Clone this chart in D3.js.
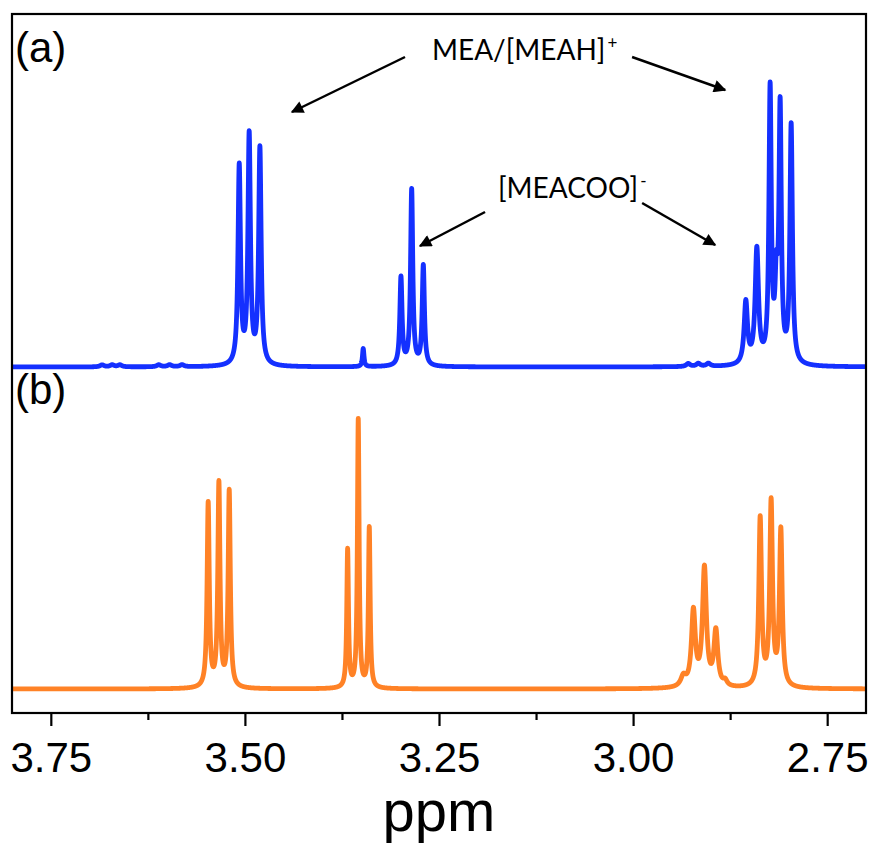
<!DOCTYPE html>
<html>
<head>
<meta charset="utf-8">
<script src="https://cdn.jsdelivr.net/npm/d3@7"></script>
<style>
  body { margin: 0; background: #fff; }
  svg { display: block; }
</style>
</head>
<body>
<div class="nmr-chart"></div>
<script>
'use strict'

// Peak lists (ppm, intensity a.u., half width ppm).
// (a) upper spectrum
const ppmA = [3.684, 3.671, 3.661, 3.611, 3.597, 3.581,
              3.5073, 3.4945, 3.4807,
              3.3476,
              3.299, 3.2852, 3.2702,
              2.929, 2.916, 2.903,
              2.8548, 2.8406, 2.8235, 2.8155, 2.8106, 2.7964];
const intA = [2, 2, 2, 2, 2, 2,
              198, 228, 216,
              18,
              88, 176, 100,
              3, 3, 3,
              62, 114, 272, 70, 250, 238];
const widA = [0.003, 0.003, 0.003, 0.003, 0.003, 0.003,
              0.0019, 0.0019, 0.0019,
              0.0012,
              0.0017, 0.0017, 0.0017,
              0.003, 0.003, 0.003,
              0.0026, 0.0026, 0.0018, 0.002, 0.0018, 0.0019];

// (b) lower spectrum
const ppmB = [3.5473, 3.5335, 3.5202,
              3.3677, 3.354, 3.3398,
              2.9352, 2.9223, 2.9081, 2.8934, 2.8814,
              2.8363, 2.8222, 2.8097];
const intB = [184, 203, 196,
              138, 268, 160,
              10, 75, 118, 55, 5,
              168, 183, 156];
const widB = [0.00165, 0.00165, 0.00165,
              0.0013, 0.0013, 0.0013,
              0.004, 0.003, 0.003, 0.003, 0.003,
              0.0021, 0.0021, 0.0021];

// Axis ticks.
const majorTicks = [3.75, 3.50, 3.25, 3.00, 2.75];
const minorTicks = [3.625, 3.375, 3.125, 2.875];

// Annotations (ppm, intensity in panel a).
const labels = [
    {text: 'MEA/[MEAH]', sup: '+', ppm: 3.259, int: 307},
    {text: '[MEACOO]', sup: '-', ppm: 3.174, int: 169}
];
const arrows = [
    {from: [3.2938, 310], to: [3.4394, 255]},
    {from: [3.0013, 310], to: [2.8814, 277]},
    {from: [3.1907, 155], to: [3.2745, 121]},
    {from: [2.9884, 164], to: [2.8943, 122]}
];

// Dimensions.
let width = 874,
    height = 845,
    frame = {left: 12, right: 866, top: 14, bottom: 713};

let svg = d3.select('.nmr-chart')
    .append('svg')
        .attr('width', width)
        .attr('height', height);

// Scales.
let x = d3.scaleLinear()
    .domain([3.80, 2.70])
    .range([frame.left, frame.right]);

let yA = d3.scaleLinear().domain([0, 300]).range([367, 67]);
let yB = d3.scaleLinear().domain([0, 300]).range([689, 389]);

// Spectrum from peak list (Lorentzian lines).
function spectrum(ppm, ints, wids) {
    let pts = d3.range(3.80, 2.6999, -0.0001);
    return pts.map(p => {
        let s = 0;
        for (let i = 0; i < ppm.length; i++) {
            let u = (p - ppm[i]) / wids[i];
            s += ints[i] / (1 + u * u);
        }
        return [p, s];
    });
}

svg.append('clipPath')
    .attr('id', 'clip')
    .append('rect')
        .attr('x', frame.left)
        .attr('y', frame.top)
        .attr('width', frame.right - frame.left)
        .attr('height', frame.bottom - frame.top);

let lineA = d3.line().x(d => x(d[0])).y(d => yA(d[1]));
let lineB = d3.line().x(d => x(d[0])).y(d => yB(d[1]));

svg.append('path')
    .datum(spectrum(ppmA, intA, widA))
    .attr('clip-path', 'url(#clip)')
    .attr('d', lineA)
    .attr('fill', 'none')
    .attr('stroke', '#1430ff')
    .attr('stroke-width', 4.8)
    .attr('stroke-linejoin', 'round');

svg.append('path')
    .datum(spectrum(ppmB, intB, widB))
    .attr('clip-path', 'url(#clip)')
    .attr('d', lineB)
    .attr('fill', 'none')
    .attr('stroke', '#ff8226')
    .attr('stroke-width', 4.8)
    .attr('stroke-linejoin', 'round');

// Frame.
svg.append('rect')
    .attr('x', frame.left)
    .attr('y', frame.top)
    .attr('width', frame.right - frame.left)
    .attr('height', frame.bottom - frame.top)
    .attr('fill', 'none')
    .attr('stroke', '#000')
    .attr('stroke-width', 2.2);

// Axes.
svg.append('g')
    .attr('transform', `translate(0, ${frame.bottom})`)
    .call(d3.axisBottom(x).tickValues(majorTicks).tickSize(13).tickPadding(16)
        .tickFormat(d3.format('.2f')))
    .call(g => g.select('.domain').remove())
    .call(g => g.selectAll('.tick line').attr('stroke-width', 2.2))
    .call(g => g.selectAll('.tick text')
        .attr('font-family', 'Liberation Sans, Arial, sans-serif')
        .attr('font-size', 42)
        .attr('fill', '#000'));

svg.append('g')
    .attr('transform', `translate(0, ${frame.bottom})`)
    .call(d3.axisBottom(x).tickValues(minorTicks).tickSize(7).tickFormat(''))
    .call(g => g.select('.domain').remove())
    .call(g => g.selectAll('.tick line').attr('stroke-width', 2.2));

svg.append('text')
    .attr('x', (frame.left + frame.right) / 2)
    .attr('y', 831)
    .attr('text-anchor', 'middle')
    .attr('font-family', 'Liberation Sans, Arial, sans-serif')
    .attr('font-size', 58)
    .text('ppm');

// Panel labels.
[['(a)', 62], ['(b)', 404]].forEach(([t, yy]) => {
    svg.append('text')
        .attr('x', 15)
        .attr('y', yy)
        .attr('font-family', 'Liberation Sans, Arial, sans-serif')
        .attr('font-size', 42)
        .text(t);
});

// Annotations.
svg.append('defs').append('marker')
    .attr('id', 'head')
    .attr('viewBox', '0 0 10 10')
    .attr('refX', 9)
    .attr('refY', 5)
    .attr('markerWidth', 6)
    .attr('markerHeight', 5)
    .attr('markerUnits', 'strokeWidth')
    .attr('orient', 'auto')
    .append('path')
        .attr('d', 'M0,0L10,5L0,10z')
        .attr('fill', '#000');

svg.append('g')
    .selectAll('line')
    .data(arrows)
    .join('line')
        .attr('x1', d => x(d.from[0]))
        .attr('y1', d => yA(d.from[1]))
        .attr('x2', d => x(d.to[0]))
        .attr('y2', d => yA(d.to[1]))
        .attr('stroke', '#000')
        .attr('stroke-width', 2.5)
        .attr('marker-end', 'url(#head)');

let lab = svg.append('g')
    .selectAll('text')
    .data(labels)
    .join('text')
        .attr('x', d => x(d.ppm))
        .attr('y', d => yA(d.int))
        .attr('font-family', 'Lato, Open Sans, sans-serif')
        .attr('font-size', 28)
        .attr('fill', '#000');

lab.append('tspan').text(d => d.text);
lab.append('tspan')
    .attr('dx', 2)
    .attr('dy', -11)
    .attr('font-size', 17)
    .text(d => d.sup);
</script>
</body>
</html>
